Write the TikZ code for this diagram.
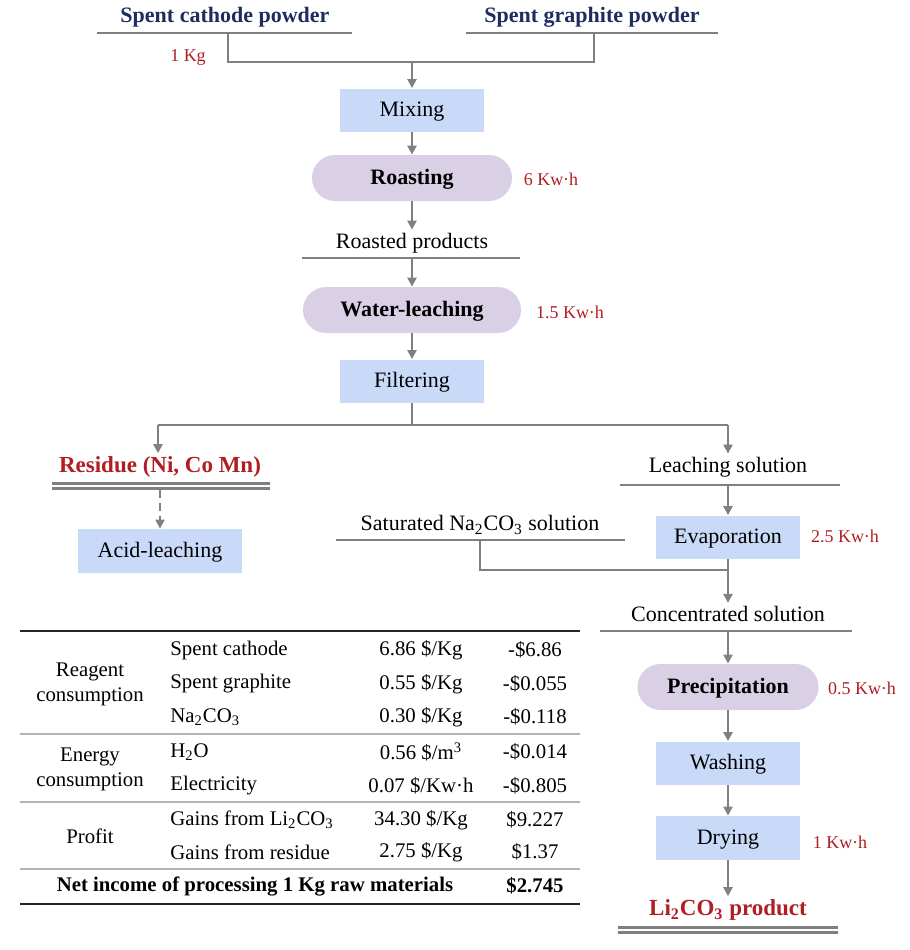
\documentclass[tikz,border=0pt]{standalone}
\usepackage{fontspec}
\setmainfont{Liberation Serif}
\usetikzlibrary{arrows.meta}
\definecolor{boxblue}{RGB}{201,218,248}
\definecolor{lav}{RGB}{217,208,230}
\definecolor{lgray}{RGB}{128,128,128}
\definecolor{tgray}{RGB}{180,180,180}
\definecolor{navy}{RGB}{31,45,94}
\definecolor{rtxt}{RGB}{176,30,35}
\begin{document}
\begin{tikzpicture}[x=0.5pt,y=-0.5pt,
  proc/.style={fill=boxblue, minimum width=72pt, minimum height=21.5pt, inner sep=0pt, text height=0.67em, text depth=0pt, font=\fontsize{11}{13}\selectfont},
  stad/.style={fill=lav, rounded corners=11.5pt, minimum height=23pt, inner sep=0pt, text height=0.67em, text depth=0pt, font=\bfseries\fontsize{11}{13}\selectfont},
  lbl/.style={font=\fontsize{11}{13}\selectfont, inner sep=1.5pt},
  ttl/.style={font=\bfseries\fontsize{11}{13}\selectfont, text=navy, inner sep=1.5pt},
  outlbl/.style={font=\bfseries\fontsize{11.5}{13}\selectfont, text=rtxt, inner sep=1.5pt},
  energy/.style={text=rtxt, font=\fontsize{9}{11}\selectfont},
  ln/.style={draw=lgray, line width=1.25pt},
  arr/.style={ln, -{Triangle[length=4.5pt,width=4.5pt]}},
  tb/.style={font=\fontsize{10.4}{12.5}\selectfont, inner sep=0pt},
  tbb/.style={font=\bfseries\fontsize{10.4}{12.5}\selectfont, inner sep=0pt},
  tthick/.style={draw=black!85, line width=1pt},
  tthin/.style={draw=tgray, line width=0.6pt},
]
\useasboundingbox (0,0) rectangle (910,950);

% ---- top inputs
\node[ttl] (cath) at (225,17) {Spent cathode powder};
\node[ttl] (graph) at (592,17) {Spent graphite powder};
\draw[ln] (97,33) -- (352,33);
\draw[ln] (466,33) -- (718,33);
\coordinate (c1) at (228,33);
\coordinate (c2) at (228,62);
\coordinate (g1) at (594,33);
\coordinate (g2) at (594,62);
\coordinate (jm) at (412,62);
\draw[ln] (c1) -- (c2) -- (g2) -- (g1);
\node[energy] (kg) at (188,57) {1 Kg};

% ---- main column
\node[proc] (mix) at (412,110) {Mixing};
\node[stad, minimum width=100pt] (roast) at (412,178) {Roasting};
\node[energy] (e1) at (551,179) {6 Kw·h};
\node[lbl] (rp) at (412,243) {Roasted products};
\draw[ln] (302,258) -- (520,258);
\coordinate (rpl) at (412,258);
\node[stad, minimum width=109pt] (wl) at (412,310) {Water-leaching};
\node[energy] (e2) at (570,312) {1.5 Kw·h};
\node[proc] (filt) at (412,381) {Filtering};

\draw[arr] (jm) -- (mix);
\draw[arr] (mix) -- (roast);
\draw[arr] (roast) -- (rp);
\draw[arr] (rpl) -- (wl);
\draw[arr] (wl) -- (filt);

% ---- split
\coordinate (sp) at (412,425);
\coordinate (spl) at (158,425);
\coordinate (spr) at (728,425);
\node[outlbl] (res) at (160,467) {Residue (Ni, Co Mn)};
\node[lbl] (ls) at (728,467) {Leaching solution};
\draw[ln] (filt) -- (sp);
\draw[ln] (spl) -- (spr);
\draw[arr] (spl) -- (spl |- res.north);
\draw[arr] (spr) -- (ls);

% residue branch
\draw[ln] (52,483.5) -- (270,483.5);
\draw[ln] (52,488.5) -- (270,488.5);
\coordinate (resl) at (160,490);
\node[proc, minimum width=82pt, minimum height=22pt] (acid) at (160,551) {Acid-leaching};
\draw[arr, dashed, dash pattern=on 4pt off 2.5pt] (resl) -- (acid);

% leaching branch
\draw[ln] (620,485) -- (840,485);
\coordinate (lsl) at (728,485);
\node[proc] (evap) at (728,537) {Evaporation};
\node[energy] (e3) at (845,536) {2.5 Kw·h};
\draw[arr] (lsl) -- (evap);

\node[lbl] (na) at (480,525) {Saturated Na\textsubscript{2}CO\textsubscript{3} solution};
\draw[ln] (336,540) -- (625,540);
\coordinate (na1) at (480,540);
\coordinate (na2) at (480,570);
\coordinate (na3) at (728,570);
\draw[ln] (na1) -- (na2) -- (na3);

\node[lbl] (cs) at (728,614) {Concentrated solution};
\draw[arr] (evap) -- (cs);
\draw[ln] (600,631) -- (852,631);
\coordinate (csl) at (728,631);

\node[stad, minimum width=90.5pt] (prec) at (728,687) {Precipitation};
\node[energy] (e4) at (862,688) {0.5 Kw·h};
\node[proc] (wash) at (728,763) {Washing};
\node[proc, minimum height=22pt] (dry) at (728,838) {Drying};
\node[energy] (e5) at (840,842) {1 Kw·h};
\node[outlbl] (li) at (728,910) {Li\textsubscript{2}CO\textsubscript{3} product};
\draw[ln] (618,927.5) -- (838,927.5);
\draw[ln] (618,932.5) -- (838,932.5);

\draw[arr] (csl) -- (prec);
\draw[arr] (prec) -- (wash);
\draw[arr] (wash) -- (dry);
\draw[arr] (dry) -- (li);

% ---- table
\draw[tthick] (20,631) -- (580,631);
\draw[tthin] (20,734) -- (580,734);
\draw[tthin] (20,802) -- (580,802);
\draw[tthin] (20,869) -- (580,869);
\draw[tthick] (20,904) -- (580,904);

\node[tb, align=center] (t1) at (90,684) {Reagent\\consumption};
\node[tb, align=center] (t2) at (90,769) {Energy\\consumption};
\node[tb] (t3) at (90,836) {Profit};

\node[tb, anchor=west] (r1) at (170,650) {Spent cathode};
\node[tb, anchor=west] (r2) at (170,684) {Spent graphite};
\node[tb, anchor=west] (r3) at (170,717) {Na\textsubscript{2}CO\textsubscript{3}};
\node[tb, anchor=west] (r4) at (170,752) {H\textsubscript{2}O};
\node[tb, anchor=west] (r5) at (170,786) {Electricity};
\node[tb, anchor=west] (r6) at (170,820) {Gains from Li\textsubscript{2}CO\textsubscript{3}};
\node[tb, anchor=west] (r7) at (170,852) {Gains from residue};

\node[tb] (p1) at (421,650) {6.86 \$/Kg};
\node[tb] (p2) at (421,684) {0.55 \$/Kg};
\node[tb] (p3) at (421,717) {0.30 \$/Kg};
\node[tb] (p4) at (421,752) {0.56 \$/m\textsuperscript{3}};
\node[tb] (p5) at (421,786) {0.07 \$/Kw·h};
\node[tb] (p6) at (421,820) {34.30 \$/Kg};
\node[tb] (p7) at (421,852) {2.75 \$/Kg};

\node[tb] (v1) at (535,650) {-\$6.86};
\node[tb] (v2) at (535,684) {-\$0.055};
\node[tb] (v3) at (535,717) {-\$0.118};
\node[tb] (v4) at (535,752) {-\$0.014};
\node[tb] (v5) at (535,786) {-\$0.805};
\node[tb] (v6) at (535,820) {\$9.227};
\node[tb] (v7) at (535,852) {\$1.37};

\node[tbb] (net) at (255,886) {Net income of processing 1 Kg raw materials};
\node[tbb] (netv) at (535,886) {\$2.745};
\end{tikzpicture}
\end{document}
